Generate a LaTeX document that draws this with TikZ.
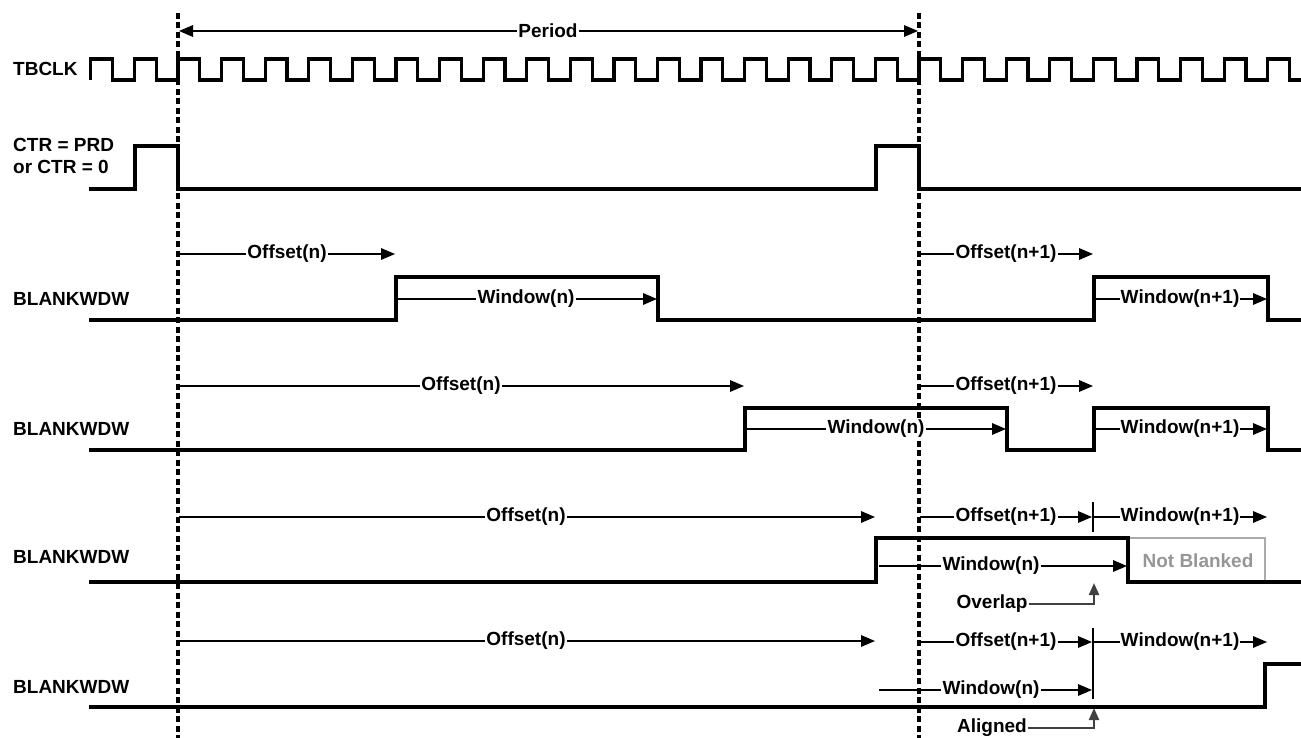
\documentclass[tikz,border=0pt]{standalone}
\usepackage{fontspec}
\setmainfont{Liberation Sans}
\usetikzlibrary{arrows.meta}
\definecolor{ptrgray}{RGB}{64,64,64}
\definecolor{nbtext}{RGB}{150,150,150}
\definecolor{nbline}{RGB}{170,170,170}
\begin{document}
\begin{tikzpicture}[x=1pt,y=-1pt,
  sig/.style={line width=3.2pt, line join=miter},
  dsh/.style={line width=3.5pt, dash pattern=on 6pt off 3.5pt},
  arr/.style={line width=1.6pt, -{Triangle[length=14pt,width=11.5pt]}},
  ln/.style={line width=1.6pt},
  ptr/.style={line width=2.2pt, draw=ptrgray, -{Triangle[length=12pt,width=10pt]}},
  lbl/.style={font=\fontsize{19}{22}\selectfont\bfseries, inner sep=1pt, fill=white},
  side/.style={font=\fontsize{19}{22}\selectfont\bfseries, inner sep=0pt, anchor=west, align=left},
  nbbox/.style={line width=2.2pt, draw=nbline}
]
\useasboundingbox (0,0) rectangle (1301,738);

% dashed period boundaries
\coordinate (d1t) at (178,13); \coordinate (d1b) at (178,738);
\coordinate (d2t) at (919,13); \coordinate (d2b) at (919,738);
\draw[dsh] (d1t) -- (d1b);
\draw[dsh] (d2t) -- (d2b);

% side labels
\node[side] (lclk) at (13,69) {TBCLK};
\node[side] (lctr) at (13,156) {CTR = PRD\\or CTR = 0};
\node[side] (lb1) at (13,299) {BLANKWDW};
\node[side] (lb2) at (13,429) {BLANKWDW};
\node[side] (lb3) at (13,557) {BLANKWDW};
\node[side] (lb4) at (13,687) {BLANKWDW};

% TBCLK
\draw[sig] (90.8,80) -- (90.8,59) -- (112.6,59) -- (112.6,80)
  \foreach \k in {-1,...,25} {
    -- ({178+\k*43.59},80) -- ({178+\k*43.59},59)
    -- ({178+\k*43.59+21.8},59) -- ({178+\k*43.59+21.8},80) }
  -- (1301,80);

% CTR = PRD or CTR = 0
\draw[sig] (89,189) -- (135,189) -- (135,146) -- (178,146) -- (178,189)
  -- (876,189) -- (876,146) -- (919,146) -- (919,189) -- (1301,189);

% Row 1
\draw[sig] (89,320) -- (396,320) -- (396,277) -- (658,277) -- (658,320)
  -- (1094,320) -- (1094,277) -- (1268,277) -- (1268,320) -- (1301,320);
% Row 2
\draw[sig] (89,450) -- (745,450) -- (745,408) -- (1007,408) -- (1007,450)
  -- (1094,450) -- (1094,408) -- (1268,408) -- (1268,450) -- (1301,450);
% Row 3
\draw[nbbox] (1128,538) -- (1265,538) -- (1265,582);
\draw[sig] (89,582) -- (876,582) -- (876,538) -- (1128,538) -- (1128,582) -- (1301,582);
% Row 4
\draw[sig] (89,707) -- (1265,707) -- (1265,664) -- (1301,664);

% Period
\node[lbl] (per) at (548,31) {Period};
\draw[arr] (per.west) -- (179,31);
\draw[arr] (per.east) -- (918,31);

% Row 1 labels
\node[lbl] (o1) at (287,254) {Offset(n)};
\draw[ln] (179,254) -- (o1.west);
\draw[arr] (o1.east) -- (395,254);
\node[lbl] (w1) at (526,299) {Window(n)};
\draw[ln] (397,299) -- (w1.west);
\draw[arr] (w1.east) -- (657,299);
\node[lbl] (p1) at (1006,254) {Offset(n+1)};
\draw[ln] (920,254) -- (p1.west);
\draw[arr] (p1.east) -- (1093,254);
\node[lbl] (q1) at (1180,299) {Window(n+1)};
\draw[ln] (1095,299) -- (q1.west);
\draw[arr] (q1.east) -- (1267,299);

% Row 2 labels
\node[lbl] (o2) at (461,386) {Offset(n)};
\draw[ln] (179,386) -- (o2.west);
\draw[arr] (o2.east) -- (744,386);
\node[lbl] (w2) at (876,429) {Window(n)};
\draw[ln] (746,429) -- (w2.west);
\draw[arr] (w2.east) -- (1006,429);
\node[lbl] (p2) at (1006,386) {Offset(n+1)};
\draw[ln] (920,386) -- (p2.west);
\draw[arr] (p2.east) -- (1093,386);
\node[lbl] (q2) at (1180,429) {Window(n+1)};
\draw[ln] (1095,429) -- (q2.west);
\draw[arr] (q2.east) -- (1267,429);

% Row 3 labels
\node[lbl] (o3) at (526,517) {Offset(n)};
\draw[ln] (179,517) -- (o3.west);
\draw[arr] (o3.east) -- (875,517);
\node[lbl] (p3) at (1006,517) {Offset(n+1)};
\draw[ln] (920,517) -- (p3.west);
\draw[arr] (p3.east) -- (1092,517);
\draw[ln] (1093,502) -- (1093,532);
\node[lbl] (q3) at (1180,517) {Window(n+1)};
\draw[ln] (1093,517) -- (q3.west);
\draw[arr] (q3.east) -- (1267,517);
\node[lbl] (w3) at (991,566) {Window(n)};
\draw[ln] (879,566) -- (w3.west);
\draw[arr] (w3.east) -- (1127,566);
\node[lbl, text=nbtext, fill=none] (nb) at (1198,561) {Not Blanked};
\node[lbl] (ov) at (992,604) {Overlap};
\draw[ptr] (ov.east) -- (1094,604) -- (1094,583);

% Row 4 labels
\node[lbl] (o4) at (526,641) {Offset(n)};
\draw[ln] (179,641) -- (o4.west);
\draw[arr] (o4.east) -- (875,641);
\node[lbl] (p4) at (1006,642) {Offset(n+1)};
\draw[ln] (920,642) -- (p4.west);
\draw[arr] (p4.east) -- (1092,642);
\draw[ln] (1093,628) -- (1093,699);
\node[lbl] (q4) at (1180,642) {Window(n+1)};
\draw[ln] (1093,642) -- (q4.west);
\draw[arr] (q4.east) -- (1267,642);
\node[lbl] (w4) at (991,690) {Window(n)};
\draw[ln] (879,690) -- (w4.west);
\draw[arr] (w4.east) -- (1092,690);
\node[lbl] (al) at (992,728) {Aligned};
\draw[ptr] (al.east) -- (1094,728) -- (1094,708);
\end{tikzpicture}
\end{document}
